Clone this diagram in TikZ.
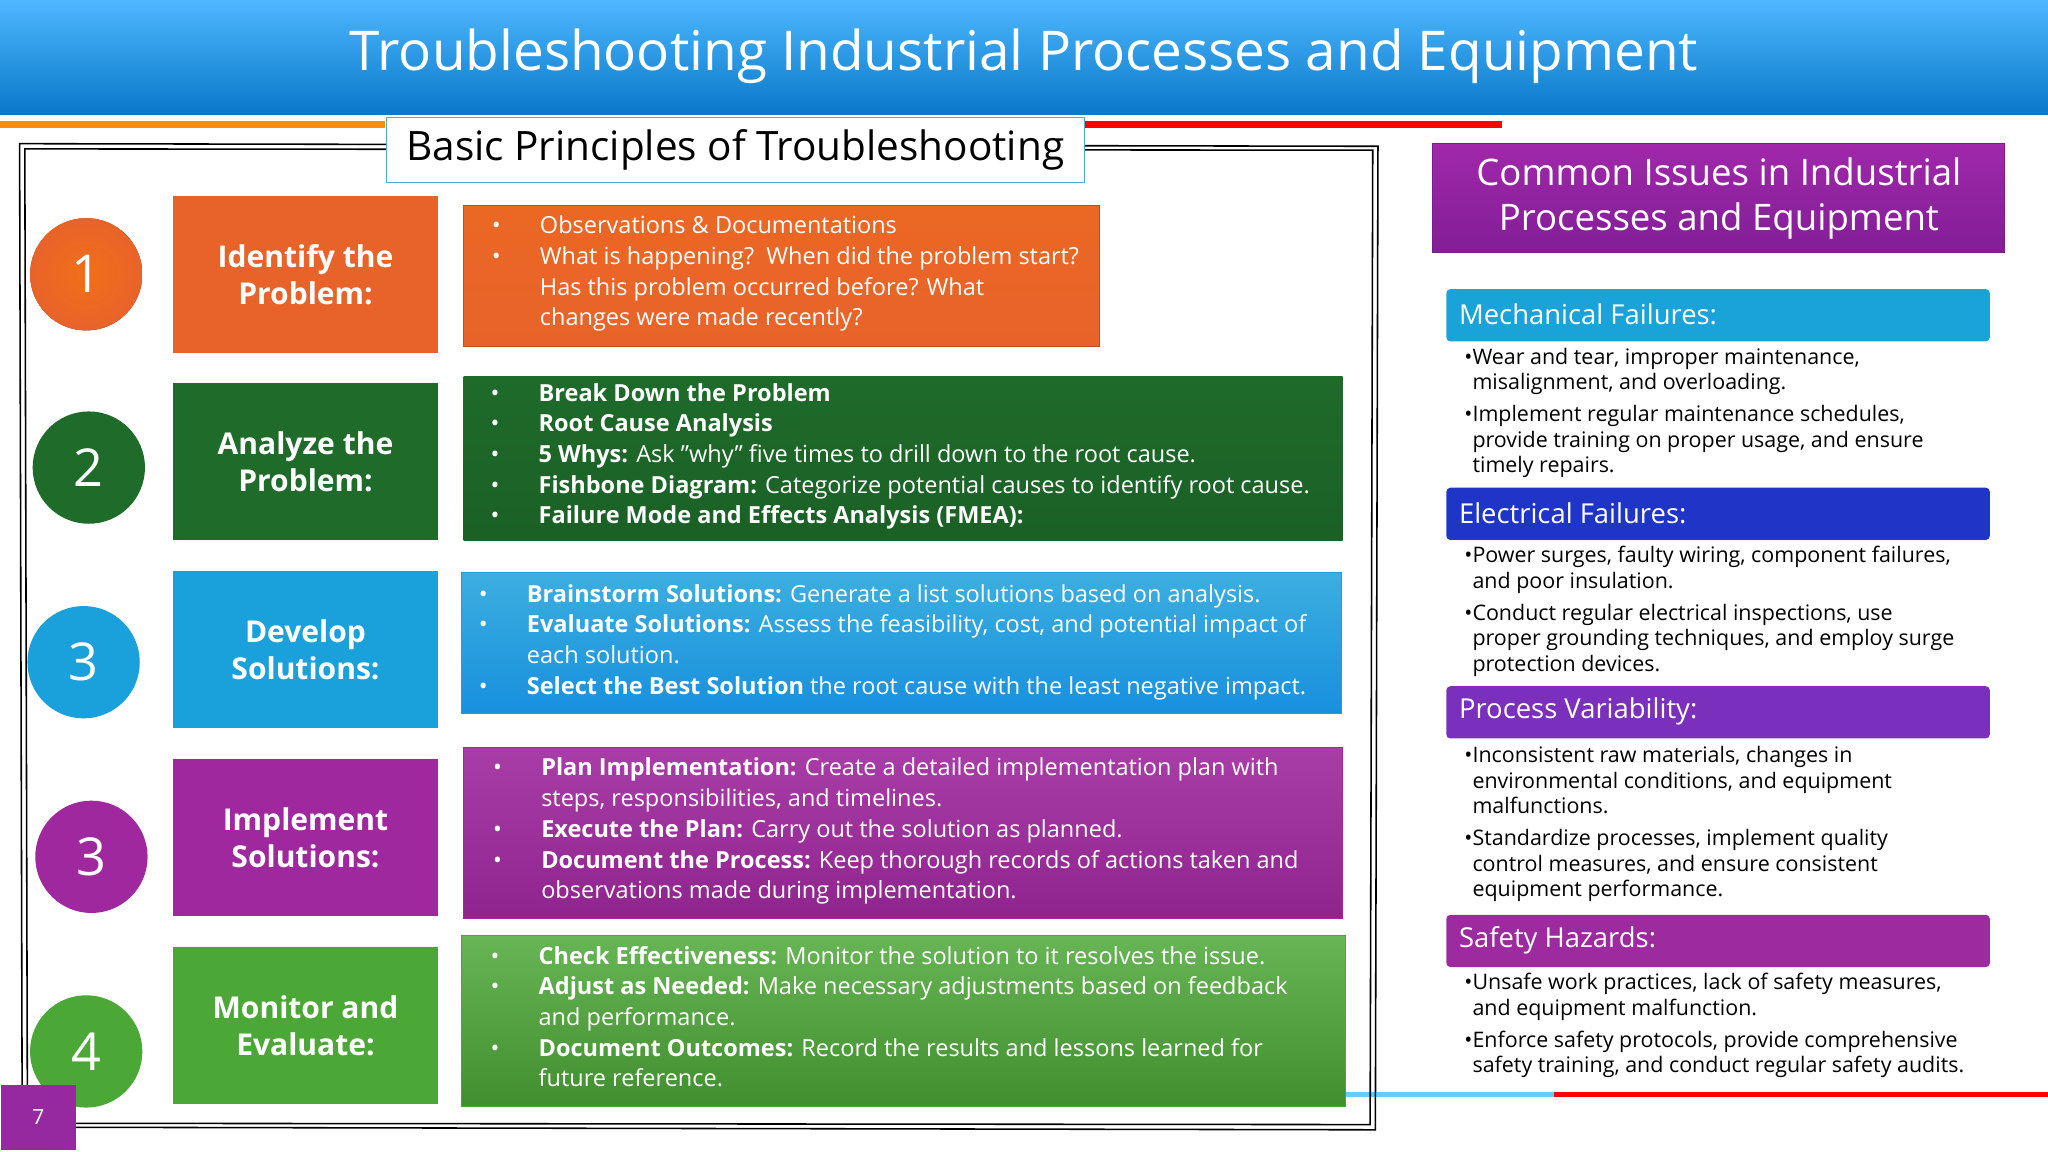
\documentclass[tikz,border=0pt]{standalone}
\usepackage{fontspec}
\setmainfont{Open Sans}
\begin{document}
\begin{tikzpicture}[x=0.5pt,y=-0.5pt,
 circ/.style={circle,minimum size=43pt,inner sep=0pt,text=white,font=\fontsize{20}{20}\selectfont},
 lab/.style={anchor=north west,minimum width=101.5pt,minimum height=60pt,inner sep=0pt,text=white,align=center,font=\fontsize{11.5}{14}\selectfont\bfseries},
 cbox/.style={anchor=north west,inner sep=0pt},
 ctext/.style={anchor=north west,inner sep=0pt,text=white,align=left,font=\fontsize{9}{11.75}\selectfont},
 rhead/.style={anchor=north west,minimum width=208pt,minimum height=20pt,inner sep=0pt,text=white},
 rtext/.style={anchor=north west,inner sep=0pt,align=left,font=\fontsize{8.2}{9.8}\selectfont}]
\newcommand\bu{\llap{\textbullet\hspace{15pt}}}
\newcommand\rb{\llap{\textbullet}}
\useasboundingbox (0,0) rectangle (1568,882);
\fill[white] (0,0) rectangle (1568,882);
% title
\shade[top color=cyan!60!blue!70,bottom color={rgb,255:red,10;green,120;blue,200}] (0,0) rectangle (1568,88);
\node[text=white,font=\fontsize{21}{21}\selectfont] (title) at (784,43) {Troubleshooting Industrial Processes and Equipment};
\fill[orange!90!yellow] (0,93) rectangle (295,98);
\fill[red] (830,93) rectangle (1150,98);
\fill[cyan!60] (1030,836) rectangle (1190,840);
\fill[red] (1190,836) rectangle (1568,840);
% frame
\draw[black,line width=0.6pt] (15,110) -- (1055,112) -- (1053,865) -- (17,863) -- cycle;
\draw[black,line width=0.6pt] (19,114) -- (1051,115) -- (1049,861) -- (21,860) -- cycle;
\node[draw={rgb,255:red,80;green,170;blue,210},fill=white,minimum width=267pt,minimum height=25pt,inner sep=0pt,font=\fontsize{15.5}{16}\selectfont] (bp) at (563,115) {Basic Principles of Troubleshooting};
% colors
\definecolor{c1}{RGB}{232,99,42}
\definecolor{c2}{RGB}{30,107,42}
\definecolor{c3}{RGB}{26,160,218}
\definecolor{c4}{RGB}{160,40,158}
\definecolor{c5}{RGB}{76,168,54}
% circles
\node[circ,ball color=c1,shading=ball] (n1) at (66,210) {1};
\node[circ,fill=c2] (n2) at (68,358) {2};
\node[circ,fill=c3] (n3) at (64,507) {3};
\node[circ,fill=c4] (n4) at (70,656) {3};
\node[circ,fill=c5] (n5) at (66,805) {4};
\shade[inner color=c1!60!orange,outer color=c1] (66,210) circle (43);
\node[circ] at (66,210) {1};
% labels
\node[lab,fill=c1] (l1) at (132,150) {Identify the\\Problem:};
\node[lab,fill=c2] (l2) at (132,293) {Analyze the\\Problem:};
\node[lab,fill=c3] (l3) at (132,437) {Develop\\Solutions:};
\node[lab,fill=c4] (l4) at (132,581) {Implement\\Solutions:};
\node[lab,fill=c5] (l5) at (132,725) {Monitor and\\Evaluate:};
% content boxes
\shade[top color=c1!85!orange,bottom color=c1,draw=c1!80!black] (355,157) rectangle (842,265);
\shade[top color=c2,bottom color=c2!90!black] (355,288) rectangle (1028,414);
\shade[top color=c3!85!white,bottom color=c3!90!blue,draw=c3] (353,438) rectangle (1027,546);
\shade[top color=c4!90!white,bottom color=c4!90!black,draw=c4] (355,572) rectangle (1028,703);
\shade[top color=c5!85!white,bottom color=c5!85!black,draw=c5] (353,716) rectangle (1030,847);
\node[ctext] (t1) at (413,165) {\bu Observations \& Documentations\\\bu What is happening?\ \ When did the problem start?\\Has this problem occurred before? What\\changes were made recently?};
\node[ctext] (t2) at (412,293) {\bu\textbf{Break Down the Problem}\\\bu\textbf{Root Cause Analysis}\\\bu\textbf{5 Whys:} Ask "why" five times to drill down to the root cause.\\\bu\textbf{Fishbone Diagram:} Categorize potential causes to identify root cause.\\\bu\textbf{Failure Mode and Effects Analysis (FMEA):}};
\node[ctext] (t3) at (403,447) {\bu\textbf{Brainstorm Solutions:} Generate a list solutions based on analysis.\\\bu\textbf{Evaluate Solutions:} Assess the feasibility, cost, and potential impact of\\each solution.\\\bu\textbf{Select the Best Solution} the root cause with the least negative impact.};
\node[ctext] (t4) at (414,580) {\bu\textbf{Plan Implementation:} Create a detailed implementation plan with\\steps, responsibilities, and timelines.\\\bu\textbf{Execute the Plan:} Carry out the solution as planned.\\\bu\textbf{Document the Process:} Keep thorough records of actions taken and\\observations made during implementation.};
\node[ctext] (t5) at (412,724) {\bu\textbf{Check Effectiveness:} Monitor the solution to it resolves the issue.\\\bu\textbf{Adjust as Needed:} Make necessary adjustments based on feedback\\and performance.\\\bu\textbf{Document Outcomes:} Record the results and lessons learned for\\future reference.};
% right column
\shade[top color={rgb,255:red,160;green,40;blue,170},bottom color={rgb,255:red,130;green,30;blue,150},draw={rgb,255:red,120;green,30;blue,140}] (1097,110) rectangle (1535,193);
\node[text=white,align=center,font=\fontsize{14}{17.5}\selectfont] (ci) at (1316,152) {Common Issues in Industrial\\Processes and Equipment};
\node[rhead,fill={rgb,255:red,26;green,163;blue,217},rounded corners=1.5pt] (h1) at (1107,221) {};
\node[anchor=west,text=white,font=\fontsize{10.5}{12}\selectfont] at (1110,241) {Mechanical Failures:};
\node[rhead,fill={rgb,255:red,31;green,53;blue,200},rounded corners=1.5pt] (h2) at (1107,373) {};
\node[anchor=west,text=white,font=\fontsize{10.5}{12}\selectfont] at (1110,393) {Electrical Failures:};
\node[rhead,fill={rgb,255:red,123;green,47;blue,189},rounded corners=1.5pt] (h3) at (1107,525) {};
\node[anchor=west,text=white,font=\fontsize{10.5}{12}\selectfont] at (1110,545) {Process Variability:};
\node[rhead,fill={rgb,255:red,158;green,42;blue,160},rounded corners=1.5pt] (h4) at (1107,700) {};
\node[anchor=west,text=white,font=\fontsize{10.5}{12}\selectfont] at (1110,720) {Safety Hazards:};
\node[rtext] (r1) at (1127,266) {\rb Wear and tear, improper maintenance,\\misalignment, and overloading.\\[2.3pt]\rb Implement regular maintenance schedules,\\provide training on proper usage, and ensure\\timely repairs.};
\node[rtext] (r2) at (1127,418) {\rb Power surges, faulty wiring, component failures,\\and poor insulation.\\[2.3pt]\rb Conduct regular electrical inspections, use\\proper grounding techniques, and employ surge\\protection devices.};
\node[rtext] (r3) at (1127,571) {\rb Inconsistent raw materials, changes in\\environmental conditions, and equipment\\malfunctions.\\[2.3pt]\rb Standardize processes, implement quality\\control measures, and ensure consistent\\equipment performance.};
\node[rtext] (r4) at (1127,745) {\rb Unsafe work practices, lack of safety measures,\\and equipment malfunction.\\[2.3pt]\rb Enforce safety protocols, provide comprehensive\\safety training, and conduct regular safety audits.};
% page number
\node[anchor=north west,fill={rgb,255:red,150;green,40;blue,160},minimum width=29pt,minimum height=25pt,inner sep=0pt,text=white,font=\fontsize{8}{8}\selectfont] (pg) at (0,830) {7};
\end{tikzpicture}
\end{document}
